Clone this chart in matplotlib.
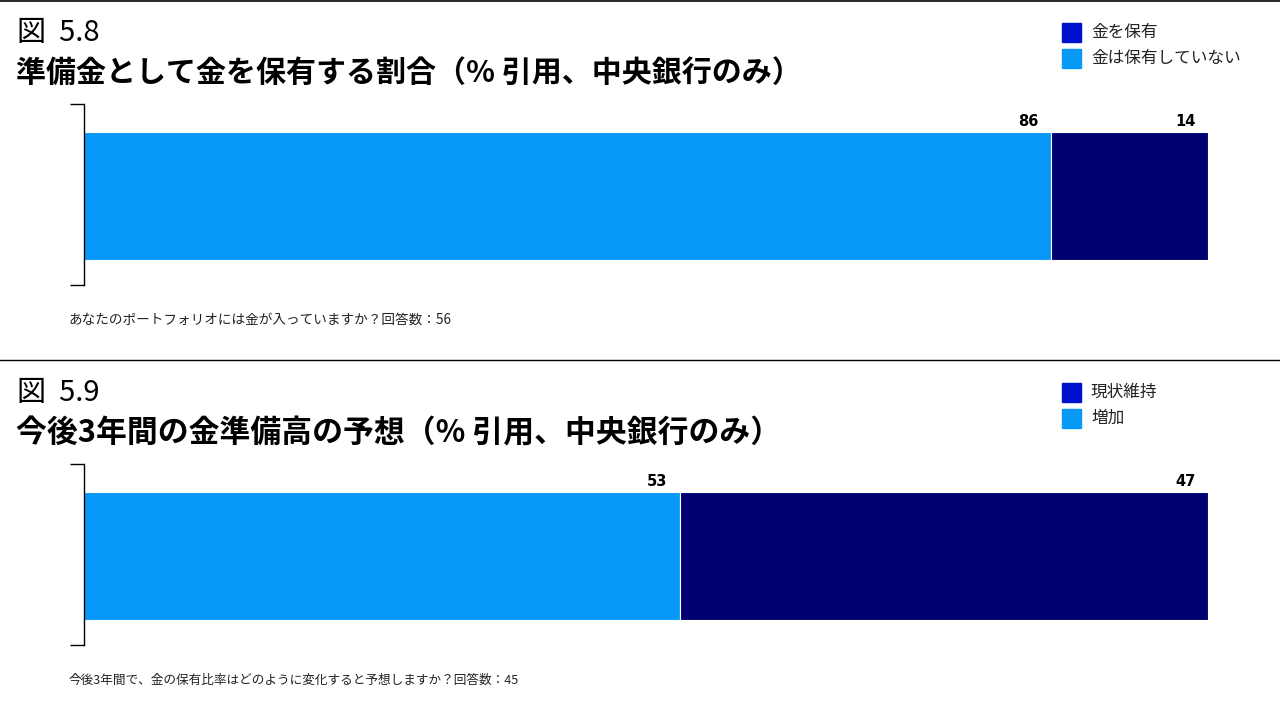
import matplotlib
matplotlib.use("Agg")
from matplotlib import pyplot as plt
from matplotlib.lines import Line2D
from matplotlib.patches import Rectangle

plt.rcParams['font.family'] = ['Noto Sans CJK JP', 'DejaVu Sans']

# data
fig_nums = ["図  5.8", "図  5.9"]
titles = ["準備金として金を保有する割合（% 引用、中央銀行のみ）",
          "今後3年間の金準備高の予想（% 引用、中央銀行のみ）"]
notes = ["あなたのポートフォリオには金が入っていますか？回答数：56",
         "今後3年間で、金の保有比率はどのように変化すると予想しますか？回答数：45"]
seg_names_1 = ["金は保有していない", "金を保有"]
seg_vals_1 = [86, 14]
seg_names_2 = ["増加", "現状維持"]
seg_vals_2 = [53, 47]

light = "#0898F8"
navy = "#000070"
legend_dark = "#0010CC"

W, H = 1280, 720
fig = plt.figure(figsize=(12.8, 7.2), dpi=100)

def px(x, y):
    return x / W, 1 - y / H

# separator lines
fig.add_artist(Line2D([0, 1], [1 - 1 / H, 1 - 1 / H], color="black", lw=1.2))
fig.add_artist(Line2D([0, 1], [1 - 360 / H, 1 - 360 / H], color="black", lw=1.0))

def panel(y0, num, title, note, note_size, title_size, names, vals):
    # headings
    fig.text(*px(17, y0 + 33), num, fontsize=21, va="center", ha="left")
    fig.text(*px(16, y0 + 73), title, fontsize=title_size, fontweight="bold",
             va="center", ha="left")
    # legend (dark first, light second)
    for i, (name, col) in enumerate([(names[1], legend_dark), (names[0], light)]):
        yy = y0 + 23 + i * 26
        fig.add_artist(Rectangle(px(1062, yy + 19), 19 / W, 19 / H,
                                 transform=fig.transFigure, color=col))
        fig.text(*px(1091, yy + 9), name, fontsize=12, va="center", ha="left",
                 color="#222222")
    # bar
    ax = fig.add_axes([84 / W, 1 - (y0 + 285) / H, (1208 - 84) / W, 181 / H])
    ax.set_xlim(0, 100)
    ax.set_ylim(-0.5, 0.5)
    left = 0
    for v, col in zip(vals, [light, navy]):
        ax.barh(-0.008, v, left=left, height=0.707, color=col, edgecolor="white",
                linewidth=0.8)
        ax.text(left + v - 1.1, 0.36, str(v), ha="right", va="bottom",
                fontsize=10.5, fontweight="bold", family="DejaVu Sans")
        left += v
    for s in ["top", "right", "bottom"]:
        ax.spines[s].set_visible(False)
    ax.spines["left"].set_linewidth(1.0)
    ax.set_xticks([])
    ax.set_yticks([-0.5, 0.5])
    ax.set_yticklabels([])
    ax.tick_params(axis="y", direction="out", length=10, width=1.0)
    fig.text(*px(69, y0 + 320), note, fontsize=note_size, va="center", ha="left",
             color="#222222")

panel(0, fig_nums[0], titles[0], notes[0], 9.8, 21.6, seg_names_1, seg_vals_1)
panel(360, fig_nums[1], titles[1], notes[1], 9.1, 22.2, seg_names_2, seg_vals_2)

fig.savefig("out.png", dpi=100)
